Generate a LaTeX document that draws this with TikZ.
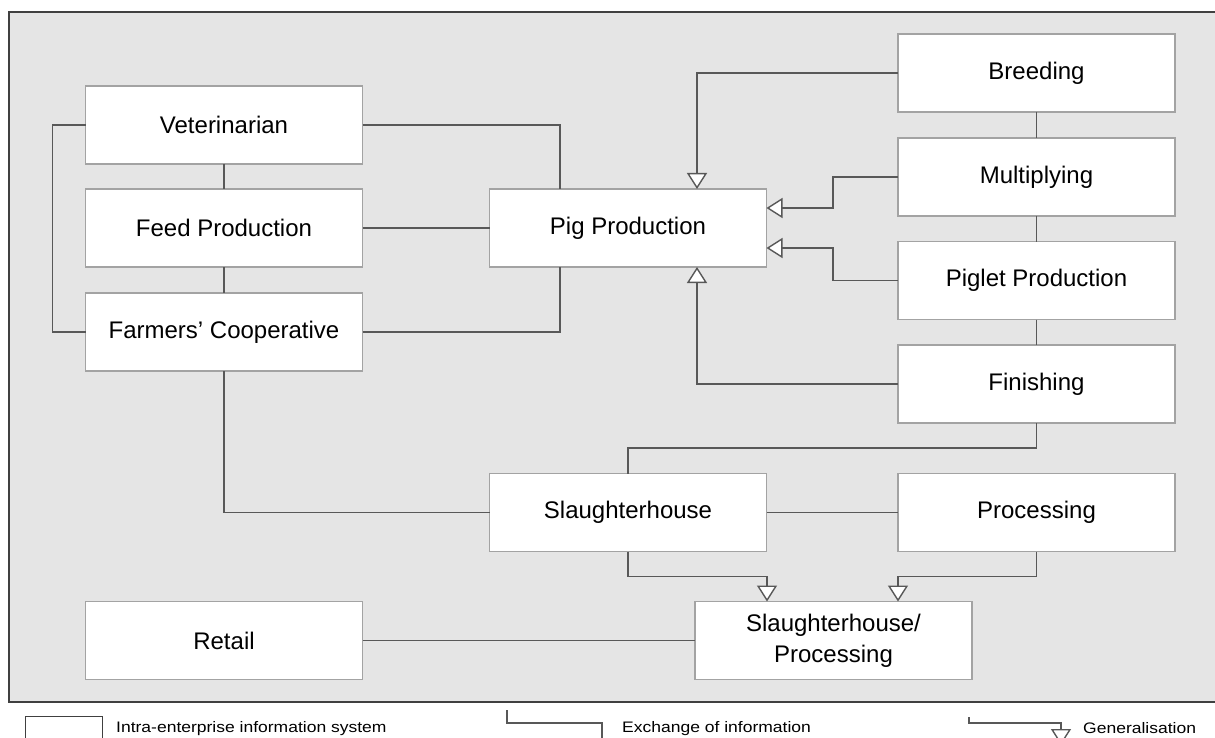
\documentclass[tikz,border=0pt]{standalone}
\usepackage{fontspec}
\setmainfont{Liberation Sans}
\usetikzlibrary{arrows.meta}
\definecolor{panel}{HTML}{E5E5E5}
\definecolor{frame}{HTML}{404040}
\definecolor{boxline}{HTML}{A3A3A3}
\definecolor{link}{HTML}{585858}
\tikzset{
  sysbox/.style={draw=boxline, line width=1.4pt, fill=white, minimum width=277pt,
    minimum height=78pt, inner sep=0pt, outer sep=0pt, align=center,
    font=\fontsize{24}{31}\selectfont},
  exch/.style={draw=link, line width=1.4pt},
  gen/.style={draw=link, line width=1.4pt,
    -{Triangle[length=16pt, width=20pt, fill=white, line width=1.4pt]}},
  legtext/.style={anchor=base west, inner sep=0pt, font=\fontsize{17.5}{20}\selectfont},
}
\newcommand{\legscale}[1]{\scalebox{1}[0.87]{#1}}
\begin{document}
\begin{tikzpicture}[x=1pt, y=-1pt]
\useasboundingbox (0,0) rectangle (1215,738);
% panel
\draw[frame, line width=2pt, fill=panel] (9,12) rectangle (1240,702);

% left column
\node[sysbox] (vet)  at (224,125) {Veterinarian};
\node[sysbox] (feed) at (224,228) {Feed Production};
\node[sysbox] (farm) at (224,332) {Farmers’ Cooperative};
\node[sysbox] (retail) at (224,640.5) {Retail};

% centre
\node[sysbox] (pig)   at (628,228) {Pig Production};
\node[sysbox] (slaug) at (628,512.5) {Slaughterhouse};
\node[sysbox] (sp)    at (833.5,640.5) {Slaughterhouse/\\Processing};

% right column
\node[sysbox] (breed) at (1036.5,73) {Breeding};
\node[sysbox] (mult)  at (1036.5,177) {Multiplying};
\node[sysbox] (piglet) at (1036.5,280.5) {Piglet Production};
\node[sysbox] (fin)   at (1036.5,384) {Finishing};
\node[sysbox] (proc)  at (1036.5,512.5) {Processing};

% exchange of information
\draw[exch] (vet.south) -- (feed.north);
\draw[exch] (feed.south) -- (farm.north);
\draw[exch] (vet.west) -- ++(-33,0) |- (farm.west);
\draw[exch] (vet.east) -| ([xshift=-68pt]pig.north);
\draw[exch] (feed.east) -- (pig.west);
\draw[exch] (farm.east) -| ([xshift=-68pt]pig.south);
\draw[exch] (breed.south) -- (mult.north);
\draw[exch] (mult.south) -- (piglet.north);
\draw[exch] (piglet.south) -- (fin.north);
\draw[exch] (farm.south) |- (slaug.west);
\draw[exch] (fin.south) -- ++(0,25) -| (slaug.north);
\draw[exch] (slaug.east) -- (proc.west);
\draw[exch] (retail.east) -- (sp.west);

% generalisation
\draw[gen] (breed.west) -| ([xshift=69pt]pig.north);
\draw[gen] (mult.west) -- ++(-65,0) |- ([yshift=20pt]pig.east);
\draw[gen] (piglet.west) -- ++(-65,0) |- ([yshift=-20pt]pig.east);
\draw[gen] (fin.west) -| ([xshift=69pt]pig.south);
\draw[gen] (slaug.south) -- ++(0,25) -| ([xshift=-66.5pt]sp.north);
\draw[gen] (proc.south) -- ++(0,25) -| ([xshift=64.5pt]sp.north);

% legend
\node[draw=frame, line width=1.2pt, fill=white, anchor=north west, minimum width=77pt,
  minimum height=34pt, inner sep=0pt] (legbox) at (25,716) {};
\node[legtext] (legsys) at (116,732) {\legscale{Intra-enterprise information system}};
\coordinate (exA) at (507,710);
\coordinate (exB) at (602,748);
\draw[exch] (exA) -- ++(0,13) -| (exB);
\node[legtext] (legexch) at (622,732) {\legscale{Exchange of information}};
\coordinate (genA) at (969,717);
\coordinate (genB) at (1061,745);
\draw[gen] (genA) -- ++(0,6) -| (genB);
\node[legtext] (leggen) at (1083,733) {\legscale{Generalisation}};
\end{tikzpicture}
\end{document}
